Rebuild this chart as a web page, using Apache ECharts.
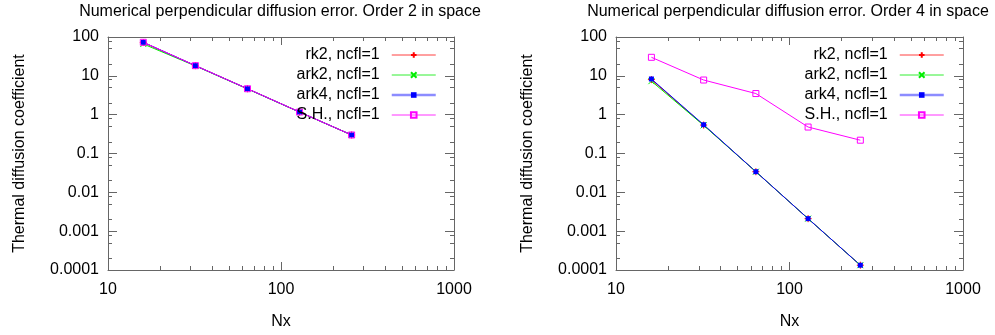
<!DOCTYPE html>
<html><head><meta charset="utf-8">
<script src="https://cdn.jsdelivr.net/npm/echarts@6/dist/echarts.min.js"></script>
<style>html,body{margin:0;padding:0;background:#fff}#c{width:995px;height:335px}</style>
</head><body><div id="c"></div>
<script>
// ---- data ----
const nx = [16, 32, 64, 128, 256];
const seriesNames = ['rk2, ncfl=1', 'ark2, ncfl=1', 'ark4, ncfl=1', 'S.H., ncfl=1'];
const titles = ['Numerical perpendicular diffusion error. Order 2 in space',
                'Numerical perpendicular diffusion error. Order 4 in space'];
const xName = 'Nx';
const yName = 'Thermal diffusion coefficient';

const rk2Order2  = [72, 18.3, 4.65, 1.17, 0.30];
const ark2Order2 = [66, 18.0, 4.6, 1.16, 0.30];
const ark4Order2 = [73, 18.3, 4.65, 1.17, 0.30];
const shOrder2   = [73, 18.3, 4.65, 1.17, 0.30];

const rk2Order4  = [8.0, 0.54, 0.034, 0.0021, 0.000133];
const ark2Order4 = [7.3, 0.53, 0.034, 0.0021, 0.000133];
const ark4Order4 = [8.3, 0.55, 0.034, 0.0021, 0.000133];
const shOrder4   = [30, 7.8, 3.5, 0.48, 0.22];

const xMajorTicks = [10, 100, 1000];
const xMinorTicks = [20, 30, 40, 50, 60, 70, 80, 90, 200, 300, 400, 500, 600, 700, 800, 900];
const yMajorTicks = [0.0001, 0.001, 0.01, 0.1, 1, 10, 100];
const yMinorTicks = [0.0002, 0.0005, 0.0008, 0.002, 0.005, 0.008, 0.02, 0.05, 0.08,
                     0.2, 0.5, 0.8, 2, 5, 8, 20, 50, 80];

// ---- styles ----
const FONT = "'Liberation Sans', Arial, Helvetica, sans-serif";
const AXC = '#666';
const colors = ['#ff0000', '#00ee00', '#0000ff', '#ff00ff'];
const legendLineColors = ['#ff4040', '#33ee33', '#8c8cff', '#ff33ff'];
const legendLineWidths = [1, 1, 2.5, 1];
const symbols = ['path://M5,0L5,10M0,5L10,5', 'path://M0,0L10,10M10,0L0,10', 'rect', 'rect'];
const symbolSizes = [7, 6, 5, 6];

const grids = [
  {left: 108, top: 37, width: 346, height: 233},
  {left: 616, top: 37, width: 347, height: 233}
];

const fmt = v => String(Number(Number(v).toPrecision(6)));

function xAxes(g) {
  const base = {gridIndex: g, type: 'log', logBase: 10, min: 10, max: 1000, splitLine: {show: false}, minorTick: {show: false}};
  return [
    Object.assign({}, base, {position: 'bottom',
      axisLine: {show: true, onZero: false, lineStyle: {color: AXC, width: 1}},
      axisTick: {show: true, inside: true, length: 8, lineStyle: {color: AXC}, customValues: xMajorTicks},
      axisLabel: {show: true, margin: 12, color: '#000', fontSize: 16, fontFamily: FONT, customValues: xMajorTicks, formatter: fmt},
      name: xName, nameLocation: 'middle', nameGap: 44, nameTextStyle: {color: '#000', fontSize: 16, fontFamily: FONT}}),
    Object.assign({}, base, {position: 'top',
      axisLine: {show: true, onZero: false, lineStyle: {color: AXC, width: 1}},
      axisTick: {show: true, inside: true, length: 8, lineStyle: {color: AXC}, customValues: xMajorTicks},
      axisLabel: {show: false}}),
    Object.assign({}, base, {position: 'bottom',
      axisLine: {show: false, onZero: false},
      axisTick: {show: true, inside: true, length: 4, lineStyle: {color: AXC}, customValues: xMinorTicks},
      axisLabel: {show: false}}),
    Object.assign({}, base, {position: 'top',
      axisLine: {show: false, onZero: false},
      axisTick: {show: true, inside: true, length: 4, lineStyle: {color: AXC}, customValues: xMinorTicks},
      axisLabel: {show: false}})
  ];
}
function yAxes(g) {
  const base = {gridIndex: g, type: 'log', logBase: 10, min: 0.0001, max: 100, splitLine: {show: false}, minorTick: {show: false}};
  return [
    Object.assign({}, base, {position: 'left',
      axisLine: {show: true, onZero: false, lineStyle: {color: AXC, width: 1}},
      axisTick: {show: true, inside: true, length: 9, lineStyle: {color: AXC}, customValues: yMajorTicks},
      axisLabel: {show: true, margin: 9, color: '#000', fontSize: 16, fontFamily: FONT, customValues: yMajorTicks, formatter: fmt},
      name: yName, nameLocation: 'middle', nameGap: 80, nameTextStyle: {color: '#000', fontSize: 16, fontFamily: FONT}}),
    Object.assign({}, base, {position: 'right',
      axisLine: {show: true, onZero: false, lineStyle: {color: AXC, width: 1}},
      axisTick: {show: true, inside: true, length: 9, lineStyle: {color: AXC}, customValues: yMajorTicks},
      axisLabel: {show: false}}),
    Object.assign({}, base, {position: 'left',
      axisLine: {show: false, onZero: false},
      axisTick: {show: true, inside: true, length: 4, lineStyle: {color: AXC}, customValues: yMinorTicks},
      axisLabel: {show: false}}),
    Object.assign({}, base, {position: 'right',
      axisLine: {show: false, onZero: false},
      axisTick: {show: true, inside: true, length: 4, lineStyle: {color: AXC}, customValues: yMinorTicks},
      axisLabel: {show: false}})
  ];
}

function makeSeries(g, idx, values) {
  const c = colors[idx];
  const isSH = idx === 3;
  return {
    name: seriesNames[idx], type: 'line',
    xAxisIndex: g * 4, yAxisIndex: g * 4,
    data: nx.map((x, i) => [x, values[i]]),
    symbol: symbols[idx], symbolSize: symbolSizes[idx],
    showAllSymbol: true, animation: false,
    lineStyle: {color: c, width: 1},
    itemStyle: isSH ? {color: 'rgba(255,255,255,0)', borderColor: c, borderWidth: 1}
                    : (idx < 2 ? {color: c, borderColor: c, borderWidth: 1} : {color: c}),
    emphasis: {disabled: true}
  };
}

const order2 = [rk2Order2, ark2Order2, ark4Order2, shOrder2];
const order4 = [rk2Order4, ark2Order4, ark4Order4, shOrder4];
const series = [];
order2.forEach((v, i) => series.push(makeSeries(0, i, v)));
order4.forEach((v, i) => series.push(makeSeries(1, i, v)));

function legend(rightPx) {
  return {
    data: seriesNames.map((n, i) => ({name: n, lineStyle: {color: legendLineColors[i], width: legendLineWidths[i]}})),
    orient: 'vertical', right: rightPx, top: 47,
    align: 'right', itemWidth: 44, itemHeight: 7, itemGap: 4, padding: 0,
    selectedMode: false,
    textStyle: {color: '#000', fontSize: 16, fontFamily: FONT, padding: [0, 7, 0, 0]}
  };
}

const option = {
  backgroundColor: '#fff',
  animation: false,
  title: [
    {text: titles[0], left: 275, top: -1, textAlign: 'center', textStyle: {color: '#000', fontSize: 16, fontWeight: 'normal', fontFamily: FONT}},
    {text: titles[1], left: 783, top: -1, textAlign: 'center', textStyle: {color: '#000', fontSize: 16, fontWeight: 'normal', fontFamily: FONT}}
  ],
  legend: [legend(995 - 437), legend(995 - 945)],
  grid: grids,
  xAxis: xAxes(0).concat(xAxes(1)),
  yAxis: yAxes(0).concat(yAxes(1)),
  series: series
};

const chart = echarts.init(document.getElementById('c'), null, {renderer: 'canvas'});
chart.setOption(option);
</script>
</body></html>
